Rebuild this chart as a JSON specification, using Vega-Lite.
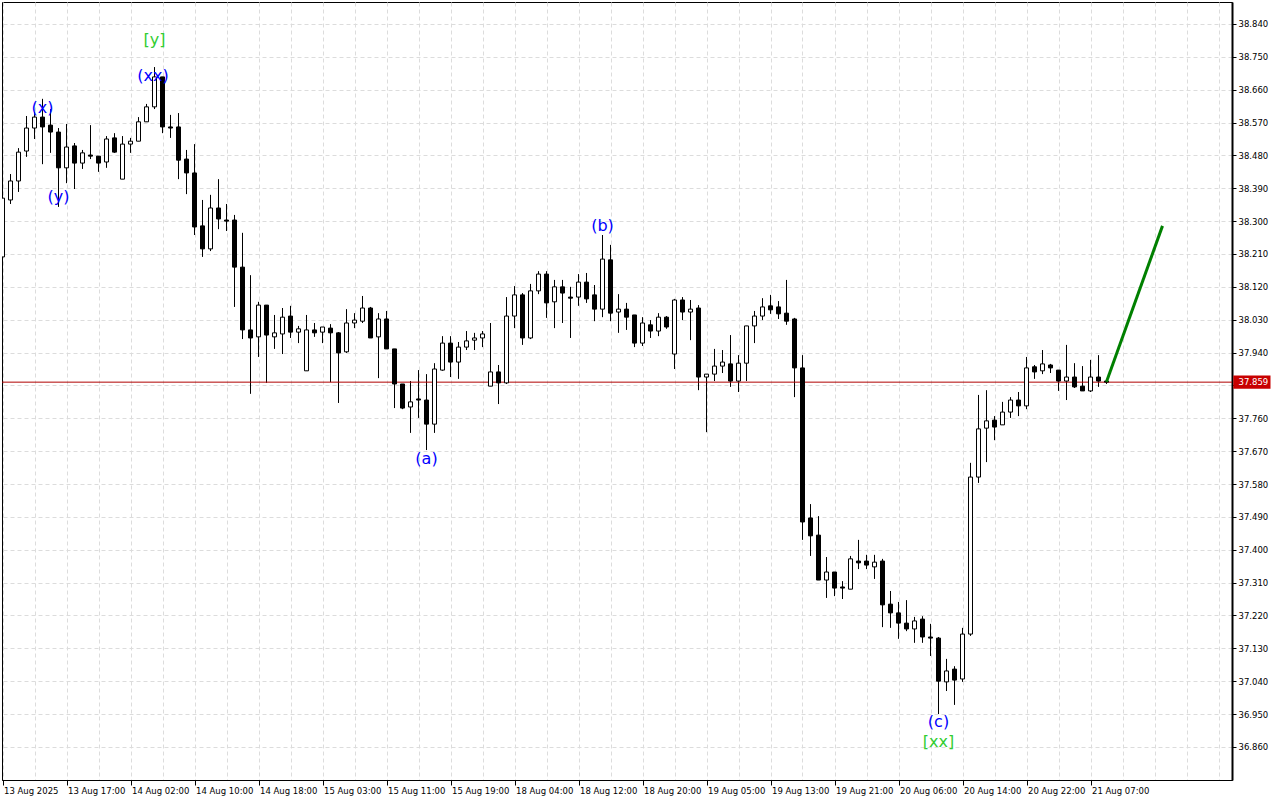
{
  "$schema": "https://vega.github.io/schema/vega-lite/v6.json",
  "width": 1230,
  "height": 778,
  "autosize": "none",
  "padding": {"left": 2, "top": 2, "right": 48, "bottom": 20},
  "background": "white",
  "config": {
    "view": {"stroke": "black", "strokeWidth": 1},
    "axis": {"labelFont": "DejaVu Sans", "labelFontSize": 8.5, "labelColor": "black", "domainColor": "black", "tickColor": "black", "gridColor": "#dcdcdc", "gridDash": [4, 3], "title": null, "labelOverlap": false},
    "scale": {"continuousPadding": 0}
  },
  "datasets": {
    "bars": [
      {"i":0,"o":38.202,"h":38.372,"l":38.196,"c":38.363},
      {"i":1,"o":38.358,"h":38.429,"l":38.347,"c":38.410},
      {"i":2,"o":38.410,"h":38.500,"l":38.380,"c":38.489},
      {"i":3,"o":38.492,"h":38.588,"l":38.476,"c":38.555},
      {"i":4,"o":38.555,"h":38.599,"l":38.525,"c":38.585},
      {"i":5,"o":38.585,"h":38.635,"l":38.456,"c":38.558},
      {"i":6,"o":38.563,"h":38.607,"l":38.487,"c":38.544},
      {"i":7,"o":38.544,"h":38.555,"l":38.339,"c":38.446},
      {"i":8,"o":38.446,"h":38.566,"l":38.404,"c":38.503},
      {"i":9,"o":38.506,"h":38.514,"l":38.388,"c":38.459},
      {"i":10,"o":38.459,"h":38.495,"l":38.443,"c":38.487},
      {"i":11,"o":38.481,"h":38.563,"l":38.470,"c":38.478},
      {"i":12,"o":38.478,"h":38.478,"l":38.435,"c":38.459},
      {"i":13,"o":38.462,"h":38.533,"l":38.446,"c":38.525},
      {"i":14,"o":38.528,"h":38.541,"l":38.487,"c":38.489},
      {"i":15,"o":38.415,"h":38.533,"l":38.415,"c":38.511},
      {"i":16,"o":38.511,"h":38.528,"l":38.487,"c":38.519},
      {"i":17,"o":38.519,"h":38.585,"l":38.519,"c":38.572},
      {"i":18,"o":38.572,"h":38.621,"l":38.572,"c":38.613},
      {"i":19,"o":38.613,"h":38.722,"l":38.607,"c":38.695},
      {"i":20,"o":38.695,"h":38.695,"l":38.541,"c":38.558},
      {"i":21,"o":38.558,"h":38.591,"l":38.528,"c":38.555},
      {"i":22,"o":38.558,"h":38.596,"l":38.415,"c":38.467},
      {"i":23,"o":38.470,"h":38.495,"l":38.374,"c":38.432},
      {"i":24,"o":38.432,"h":38.511,"l":38.262,"c":38.284},
      {"i":25,"o":38.287,"h":38.358,"l":38.202,"c":38.224},
      {"i":26,"o":38.224,"h":38.372,"l":38.218,"c":38.336},
      {"i":27,"o":38.336,"h":38.415,"l":38.278,"c":38.306},
      {"i":28,"o":38.303,"h":38.347,"l":38.273,"c":38.300},
      {"i":29,"o":38.303,"h":38.317,"l":38.065,"c":38.174},
      {"i":30,"o":38.174,"h":38.268,"l":37.977,"c":38.002},
      {"i":31,"o":38.002,"h":38.152,"l":37.827,"c":37.980},
      {"i":32,"o":37.983,"h":38.079,"l":37.928,"c":38.070},
      {"i":33,"o":38.070,"h":38.070,"l":37.857,"c":37.988},
      {"i":34,"o":37.983,"h":38.043,"l":37.950,"c":37.994},
      {"i":35,"o":37.991,"h":38.062,"l":37.936,"c":38.037},
      {"i":36,"o":38.040,"h":38.068,"l":37.980,"c":37.996},
      {"i":37,"o":37.996,"h":38.013,"l":37.966,"c":38.005},
      {"i":38,"o":37.890,"h":38.043,"l":37.890,"c":38.002},
      {"i":39,"o":38.002,"h":38.021,"l":37.983,"c":37.994},
      {"i":40,"o":37.996,"h":38.010,"l":37.966,"c":38.010},
      {"i":41,"o":38.007,"h":38.018,"l":37.859,"c":37.994},
      {"i":42,"o":37.994,"h":37.996,"l":37.802,"c":37.939},
      {"i":43,"o":37.942,"h":38.059,"l":37.939,"c":38.021},
      {"i":44,"o":38.021,"h":38.048,"l":38.007,"c":38.029},
      {"i":45,"o":38.026,"h":38.095,"l":38.021,"c":38.062},
      {"i":46,"o":38.062,"h":38.065,"l":37.980,"c":37.980},
      {"i":47,"o":37.983,"h":38.048,"l":37.870,"c":38.032},
      {"i":48,"o":38.032,"h":38.054,"l":37.950,"c":37.950},
      {"i":49,"o":37.950,"h":37.950,"l":37.788,"c":37.854},
      {"i":50,"o":37.854,"h":37.854,"l":37.785,"c":37.788},
      {"i":51,"o":37.791,"h":37.862,"l":37.720,"c":37.805},
      {"i":52,"o":37.813,"h":37.892,"l":37.761,"c":37.810},
      {"i":53,"o":37.810,"h":37.881,"l":37.673,"c":37.744},
      {"i":54,"o":37.744,"h":37.911,"l":37.720,"c":37.895},
      {"i":55,"o":37.892,"h":37.985,"l":37.890,"c":37.966},
      {"i":56,"o":37.966,"h":37.985,"l":37.873,"c":37.914},
      {"i":57,"o":37.914,"h":37.969,"l":37.868,"c":37.955},
      {"i":58,"o":37.955,"h":37.999,"l":37.947,"c":37.972},
      {"i":59,"o":37.974,"h":37.994,"l":37.947,"c":37.980},
      {"i":60,"o":37.980,"h":37.999,"l":37.955,"c":37.991},
      {"i":61,"o":37.848,"h":38.021,"l":37.848,"c":37.887},
      {"i":62,"o":37.887,"h":37.906,"l":37.799,"c":37.857},
      {"i":63,"o":37.857,"h":38.092,"l":37.854,"c":38.040},
      {"i":64,"o":38.040,"h":38.122,"l":38.007,"c":38.098},
      {"i":65,"o":38.098,"h":38.103,"l":37.961,"c":37.980},
      {"i":66,"o":37.980,"h":38.128,"l":37.977,"c":38.109},
      {"i":67,"o":38.109,"h":38.163,"l":38.100,"c":38.155},
      {"i":68,"o":38.155,"h":38.163,"l":38.035,"c":38.076},
      {"i":69,"o":38.079,"h":38.139,"l":38.007,"c":38.120},
      {"i":70,"o":38.120,"h":38.139,"l":38.021,"c":38.103},
      {"i":71,"o":38.092,"h":38.120,"l":37.980,"c":38.089},
      {"i":72,"o":38.092,"h":38.155,"l":38.068,"c":38.133},
      {"i":73,"o":38.133,"h":38.158,"l":38.076,"c":38.087},
      {"i":74,"o":38.098,"h":38.125,"l":38.026,"c":38.059},
      {"i":75,"o":38.059,"h":38.262,"l":38.037,"c":38.196},
      {"i":76,"o":38.194,"h":38.235,"l":38.026,"c":38.048},
      {"i":77,"o":38.051,"h":38.100,"l":37.994,"c":38.059},
      {"i":78,"o":38.059,"h":38.076,"l":38.002,"c":38.037},
      {"i":79,"o":38.043,"h":38.043,"l":37.955,"c":37.966},
      {"i":80,"o":37.966,"h":38.037,"l":37.958,"c":38.021},
      {"i":81,"o":38.016,"h":38.029,"l":37.980,"c":37.999},
      {"i":82,"o":37.999,"h":38.048,"l":37.985,"c":38.037},
      {"i":83,"o":38.037,"h":38.040,"l":38.005,"c":38.010},
      {"i":84,"o":37.936,"h":38.087,"l":37.895,"c":38.084},
      {"i":85,"o":38.084,"h":38.092,"l":38.029,"c":38.051},
      {"i":86,"o":38.051,"h":38.084,"l":37.974,"c":38.059},
      {"i":87,"o":38.062,"h":38.070,"l":37.837,"c":37.873},
      {"i":88,"o":37.873,"h":37.881,"l":37.722,"c":37.881},
      {"i":89,"o":37.881,"h":37.950,"l":37.862,"c":37.903},
      {"i":90,"o":37.903,"h":37.947,"l":37.884,"c":37.914},
      {"i":91,"o":37.909,"h":37.988,"l":37.846,"c":37.862},
      {"i":92,"o":37.862,"h":37.933,"l":37.832,"c":37.911},
      {"i":93,"o":37.911,"h":38.013,"l":37.862,"c":38.013},
      {"i":94,"o":38.013,"h":38.054,"l":37.966,"c":38.040},
      {"i":95,"o":38.040,"h":38.089,"l":38.029,"c":38.065},
      {"i":96,"o":38.068,"h":38.098,"l":38.046,"c":38.057},
      {"i":97,"o":38.065,"h":38.081,"l":38.032,"c":38.046},
      {"i":98,"o":38.048,"h":38.139,"l":38.016,"c":38.026},
      {"i":99,"o":38.032,"h":38.035,"l":37.818,"c":37.898},
      {"i":100,"o":37.898,"h":37.933,"l":37.427,"c":37.476},
      {"i":101,"o":37.487,"h":37.525,"l":37.383,"c":37.438},
      {"i":102,"o":37.440,"h":37.492,"l":37.317,"c":37.317},
      {"i":103,"o":37.317,"h":37.380,"l":37.268,"c":37.339},
      {"i":104,"o":37.339,"h":37.339,"l":37.273,"c":37.295},
      {"i":105,"o":37.298,"h":37.314,"l":37.265,"c":37.295},
      {"i":106,"o":37.292,"h":37.383,"l":37.292,"c":37.375},
      {"i":107,"o":37.369,"h":37.427,"l":37.347,"c":37.364},
      {"i":108,"o":37.369,"h":37.386,"l":37.347,"c":37.358},
      {"i":109,"o":37.353,"h":37.386,"l":37.320,"c":37.366},
      {"i":110,"o":37.369,"h":37.375,"l":37.188,"c":37.249},
      {"i":111,"o":37.251,"h":37.287,"l":37.186,"c":37.227},
      {"i":112,"o":37.227,"h":37.257,"l":37.156,"c":37.199},
      {"i":113,"o":37.199,"h":37.262,"l":37.177,"c":37.183},
      {"i":114,"o":37.183,"h":37.216,"l":37.145,"c":37.205},
      {"i":115,"o":37.210,"h":37.218,"l":37.145,"c":37.161},
      {"i":116,"o":37.161,"h":37.197,"l":37.109,"c":37.158},
      {"i":117,"o":37.158,"h":37.161,"l":36.950,"c":37.040},
      {"i":118,"o":37.038,"h":37.101,"l":37.013,"c":37.068},
      {"i":119,"o":37.073,"h":37.081,"l":36.975,"c":37.043},
      {"i":120,"o":37.046,"h":37.186,"l":37.038,"c":37.169},
      {"i":121,"o":37.169,"h":37.638,"l":37.164,"c":37.599},
      {"i":122,"o":37.599,"h":37.824,"l":37.583,"c":37.731},
      {"i":123,"o":37.733,"h":37.837,"l":37.640,"c":37.753},
      {"i":124,"o":37.755,"h":37.766,"l":37.700,"c":37.736},
      {"i":125,"o":37.742,"h":37.805,"l":37.742,"c":37.777},
      {"i":126,"o":37.777,"h":37.818,"l":37.761,"c":37.810},
      {"i":127,"o":37.810,"h":37.832,"l":37.766,"c":37.794},
      {"i":128,"o":37.794,"h":37.928,"l":37.785,"c":37.898},
      {"i":129,"o":37.901,"h":37.906,"l":37.868,"c":37.887},
      {"i":130,"o":37.890,"h":37.947,"l":37.881,"c":37.909},
      {"i":131,"o":37.906,"h":37.909,"l":37.884,"c":37.898},
      {"i":132,"o":37.892,"h":37.892,"l":37.835,"c":37.862},
      {"i":133,"o":37.862,"h":37.961,"l":37.810,"c":37.873},
      {"i":134,"o":37.873,"h":37.911,"l":37.843,"c":37.846},
      {"i":135,"o":37.848,"h":37.903,"l":37.835,"c":37.835},
      {"i":136,"o":37.835,"h":37.920,"l":37.832,"c":37.873},
      {"i":137,"o":37.873,"h":37.933,"l":37.846,"c":37.862},
      {"i":138,"o":37.862,"h":37.862,"l":37.854,"c":37.859}
    ],
    "waves": [
      {"t":"(x)","i":5,"p":38.610,"deg":"minor"},
      {"t":"(y)","i":7,"p":38.366,"deg":"minor"},
      {"t":"(xx)","i":18.8,"p":38.697,"deg":"minor"},
      {"t":"[y]","i":19,"p":38.796,"deg":"major"},
      {"t":"(a)","i":53,"p":37.649,"deg":"minor"},
      {"t":"(b)","i":75,"p":38.287,"deg":"minor"},
      {"t":"(c)","i":117,"p":36.928,"deg":"minor"},
      {"t":"[xx]","i":117,"p":36.873,"deg":"major"}
    ],
    "forecast": [
      {"i":138,"p":37.860},
      {"i":145,"p":38.287}
    ],
    "last": [
      {"price":37.859,"label":"37.859"}
    ]
  },
  "layer": [
    {
      "data": {"name": "bars"},
      "mark": {"type": "rule", "color": "black", "strokeWidth": 1, "clip": true},
      "encoding": {
        "x": {"field": "i", "type": "quantitative",
          "scale": {"domain": [-0.0625, 153.6875], "nice": false, "zero": false, "padding": 0},
          "axis": {
            "orient": "bottom",
            "tickCount": 200,
            "values": [0,4,8,12,16,20,24,28,32,36,40,44,48,52,56,60,64,68,72,76,80,84,88,92,96,100,104,108,112,116,120,124,128,132,136,140,144,148,152],
            "labelExpr": "(datum.value % 8 === 0 && datum.value <= 136) ? ['13 Aug 2025','13 Aug 17:00','14 Aug 02:00','14 Aug 10:00','14 Aug 18:00','15 Aug 03:00','15 Aug 11:00','15 Aug 19:00','18 Aug 04:00','18 Aug 12:00','18 Aug 20:00','19 Aug 05:00','19 Aug 13:00','19 Aug 21:00','20 Aug 06:00','20 Aug 14:00','20 Aug 22:00','21 Aug 07:00'][datum.value / 8] : ''",
            "tickOpacity": {"condition": {"test": "datum.value % 8 === 0 && datum.value <= 136", "value": 1}, "value": 0},
            "grid": true, "tickSize": 5, "labelPadding": 1, "labelAlign": "left", "labelBaseline": "top",
            "labelOffset": 1, "labelOverlap": false, "labelFlush": false
          }
        },
        "y": {"field": "l", "type": "quantitative",
          "scale": {"domain": [36.7693, 38.9002], "nice": false, "zero": false, "padding": 0},
          "axis": {
            "orient": "right",
            "tickCount": 200,
            "values": [36.86,36.95,37.04,37.13,37.22,37.31,37.4,37.49,37.58,37.67,37.76,37.85,37.94,38.03,38.12,38.21,38.3,38.39,38.48,38.57,38.66,38.75,38.84],
            "labelExpr": "abs(datum.value - 37.85) < 0.001 ? '' : format(datum.value, '.3f')",
            "grid": true, "tickSize": 4, "labelPadding": 2, "labelAlign": "left", "labelBaseline": "middle",
            "domainWidth": 2, "labelOverlap": false, "labelFlush": false
          }
        },
        "y2": {"field": "h"}
      }
    },
    {
      "data": {"name": "last"},
      "mark": {"type": "rule", "color": "#b00000", "strokeWidth": 1, "clip": true},
      "encoding": {
        "y": {"field": "price", "type": "quantitative"}
      }
    },
    {
      "data": {"name": "bars"},
      "mark": {"type": "bar", "size": 4, "stroke": "black", "strokeWidth": 1, "clip": true},
      "encoding": {
        "x": {"field": "i", "type": "quantitative"},
        "y": {"field": "o", "type": "quantitative"},
        "y2": {"field": "c"},
        "fill": {"condition": {"test": "datum.c >= datum.o", "value": "white"}, "value": "black"}
      }
    },
    {
      "data": {"name": "forecast"},
      "mark": {"type": "line", "color": "#008000", "strokeWidth": 3, "clip": true},
      "encoding": {
        "x": {"field": "i", "type": "quantitative"},
        "y": {"field": "p", "type": "quantitative"}
      }
    },
    {
      "data": {"name": "waves"},
      "mark": {"type": "text", "font": "DejaVu Sans", "fontSize": 16, "align": "center", "baseline": "middle"},
      "encoding": {
        "x": {"field": "i", "type": "quantitative"},
        "y": {"field": "p", "type": "quantitative"},
        "text": {"field": "t"},
        "color": {"field": "deg", "type": "nominal", "scale": {"domain": ["minor", "major"], "range": ["#0000ff", "#32cd32"]}, "legend": null}
      }
    },
    {
      "data": {"name": "last"},
      "mark": {"type": "rect", "color": "#c80000", "clip": false},
      "encoding": {
        "x": {"datum": 153.85, "type": "quantitative"},
        "x2": {"datum": 158.5},
        "y": {"datum": 37.877, "type": "quantitative"},
        "y2": {"datum": 37.841}
      }
    },
    {
      "data": {"name": "last"},
      "mark": {"type": "text", "color": "white", "font": "DejaVu Sans", "fontSize": 8.5, "align": "left", "baseline": "middle", "clip": false},
      "encoding": {
        "x": {"datum": 154.5, "type": "quantitative"},
        "y": {"field": "price", "type": "quantitative"},
        "text": {"field": "label"}
      }
    }
  ]
}
